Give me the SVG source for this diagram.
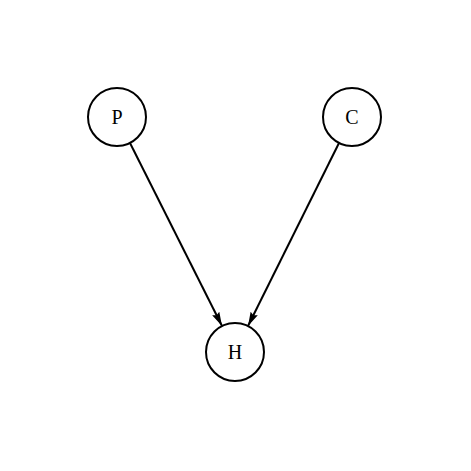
<svg xmlns="http://www.w3.org/2000/svg" width="471" height="471" viewBox="0 0 471 471">
<style>
.node circle{fill:#fff;stroke:#000;stroke-width:2}
.node text{font-family:"Liberation Serif","DejaVu Serif",serif;font-size:20px;text-anchor:middle;dominant-baseline:central;fill:#000}
.edge{stroke:#000;stroke-width:2;fill:none;marker-end:url(#ah)}
</style>
<defs>
<marker id="ah" viewBox="0 0 14 8" refX="14" refY="4" markerWidth="14" markerHeight="8" markerUnits="userSpaceOnUse" orient="auto">
<path d="M0,0 L14,4 L0,8 L2,4 Z" fill="#000"/>
</marker>
</defs>
<rect width="471" height="471" fill="#fff"/>
<g id="connectors">
<line class="edge" x1="130" y1="143" x2="222" y2="326"/>
<line class="edge" x1="339" y1="143" x2="248" y2="326"/>
</g>
<g id="P" class="node"><circle cx="117" cy="117" r="29"/><text x="117" y="117">P</text></g>
<g id="C" class="node"><circle cx="352" cy="117" r="29"/><text x="352" y="117">C</text></g>
<g id="H" class="node"><circle cx="235" cy="352" r="29"/><text x="235" y="352">H</text></g>
</svg>
